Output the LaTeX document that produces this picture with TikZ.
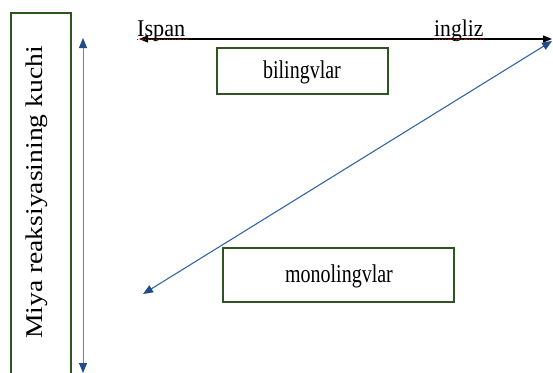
\documentclass[tikz,border=0pt]{standalone}
\usepackage{fontspec}
\setmainfont{Liberation Serif}
\usetikzlibrary{arrows.meta}
\definecolor{boxgreen}{HTML}{2F5322}
\definecolor{lineblue}{HTML}{3566A3}
\definecolor{vlineblue}{HTML}{5E86BC}
\definecolor{tipblue}{HTML}{1F4C8A}
\tikzset{
  greenbox/.style={draw=boxgreen, line width=1.5pt, inner sep=0pt},
  blueaxis/.style={draw=vlineblue, line width=1pt, {Triangle[length=10pt,width=8pt,color=tipblue,fill=tipblue]}-{Triangle[length=10pt,width=8pt,color=tipblue,fill=tipblue]}},
  bluediag/.style={draw=lineblue, line width=1.1pt, {Triangle[length=10pt,width=8pt,color=tipblue,fill=tipblue]}-{Triangle[length=10pt,width=8pt,color=tipblue,fill=tipblue]}},
  blackaxis/.style={draw=black, line width=1.3pt, {Triangle[length=9pt,width=7pt]}-{Triangle[length=9pt,width=7pt]}},
  squiggle/.style={draw=red!80!black, line width=0.7pt, dotted},
  boxtext/.style={font=\fontsize{20}{22}\selectfont},
  axistext/.style={font=\fontsize{20}{22}\selectfont, inner sep=0pt}
}
\begin{document}
\begin{tikzpicture}[x=1pt,y=-1pt]
\useasboundingbox[fill=white] (0,0) rectangle (553,372);
% left vertical box
\node[greenbox, minimum width=60pt, minimum height=367pt] (ybox) at (41,196.5) {};
\node[rotate=90, inner sep=0pt] (ylabel) at (37,192.5) {\fontsize{24}{26}\selectfont\scalebox{1.15}[1]{Miya reaksiyasining kuchi}};
% vertical arrow
\coordinate (vtop) at (83,38);
\coordinate (vbot) at (83,373);
\draw[blueaxis] (vtop) -- (vbot);
% horizontal axis
\coordinate (hl) at (139,39);
\coordinate (hr) at (552,39);
\draw[blackaxis] (hl) -- (hr);
\node[axistext, anchor=base west] (ispan) at (137,36.5) {\scalebox{1.11}[1.2]{Ispan}};
\node[axistext, anchor=base west] (ingliz) at (434,36.5) {\scalebox{1.08}[1.2]{ingliz}};
\draw[squiggle] (ispan.base west) ++(0,3) -- ++(50,0);
\draw[squiggle] (ingliz.base west) ++(0,3) -- ++(50,0);
% boxes
\node[greenbox, minimum width=171pt, minimum height=46pt] (bil) at (302.5,71) {};
\node[boxtext] (biltext) at (302,72) {\scalebox{1}[1.28]{bilingvlar}};
\node[greenbox, minimum width=231pt, minimum height=54pt] (mono) at (338.5,275) {};
\node[boxtext] (monotext) at (339,276) {\scalebox{1}[1.28]{monolingvlar}};
% diagonal arrow
\coordinate (dtop) at (552,41);
\coordinate (dbot) at (143,294);
\draw[bluediag] (dbot) -- (dtop);
\end{tikzpicture}
\end{document}
